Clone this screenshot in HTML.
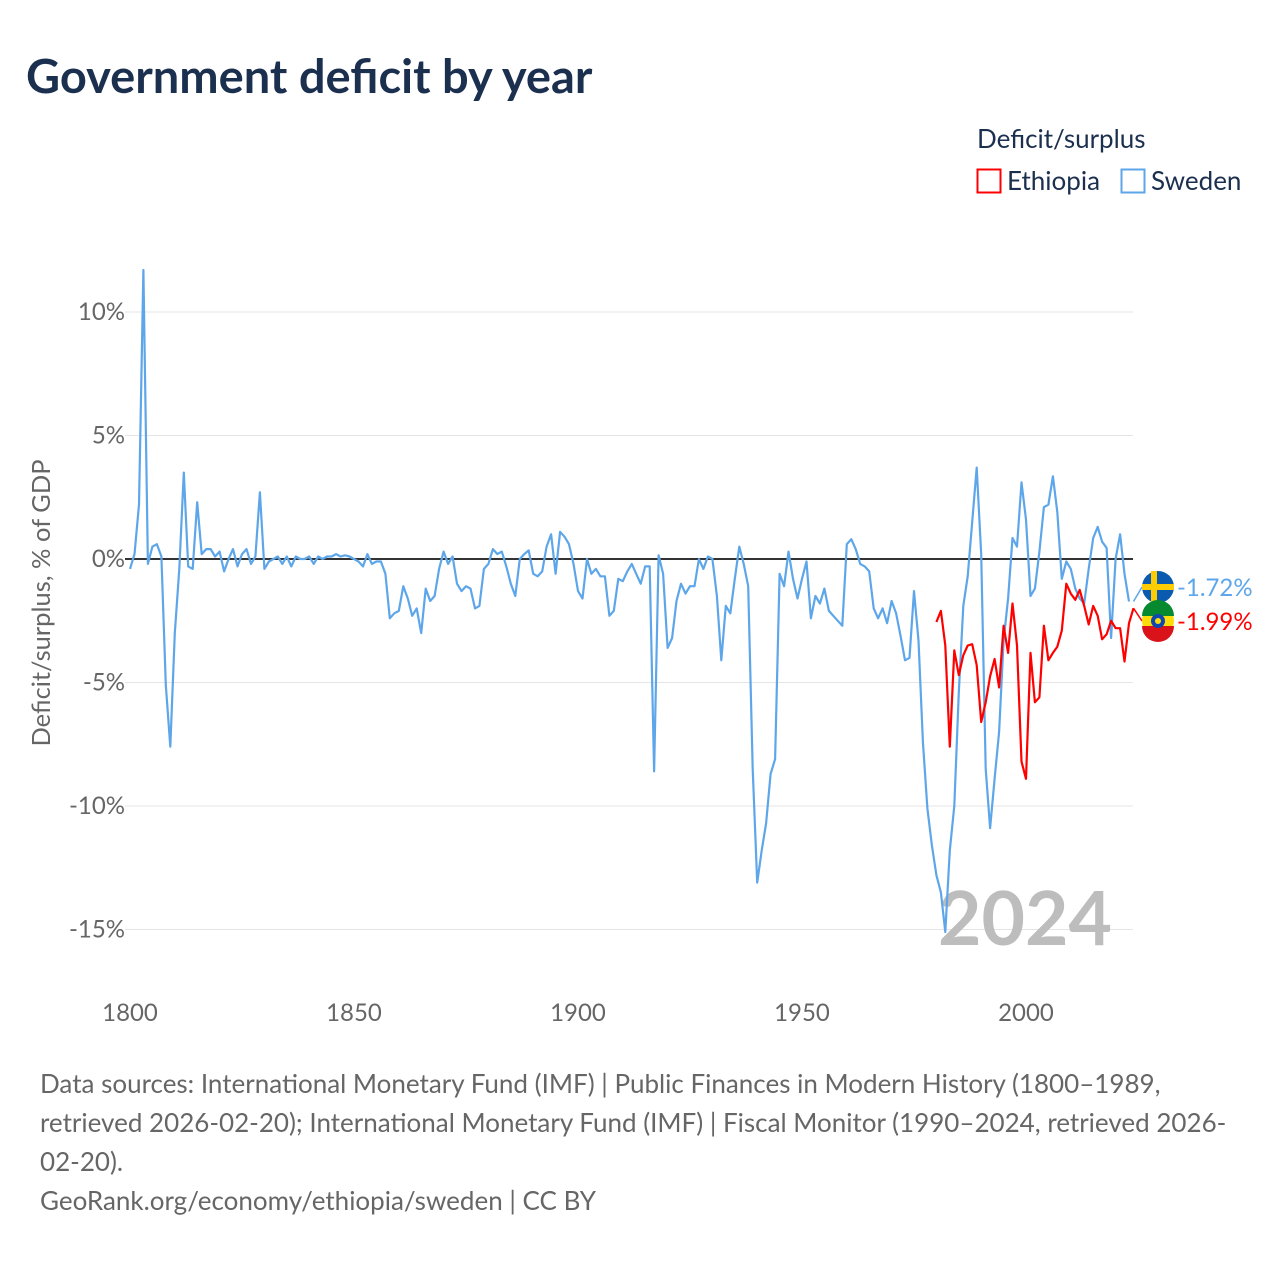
<!DOCTYPE html>
<html><head><meta charset="utf-8">
<style>
body{margin:0;background:#fff;width:1280px;height:1280px;overflow:hidden;font-family:"Liberation Sans",sans-serif;}
svg text{font-family:"Lato","Liberation Sans",sans-serif;}
</style></head>
<body>
<svg id="chart" width="1280" height="1280" xmlns="http://www.w3.org/2000/svg">
<text x="26" y="93" font-size="47" font-weight="bold" fill="#1b2f4e">Government deficit by year</text>
<text x="977" y="148" font-size="26" fill="#1b2f4e">Deficit/surplus</text>
<g><rect x="977.5" y="169.5" width="23" height="23" fill="none" stroke="#ff0000" stroke-width="2"/><text x="1007" y="190" font-size="26" fill="#1b2f4e">Ethiopia</text></g>
<g><rect x="1121.5" y="169.5" width="23" height="23" fill="none" stroke="#5ea6ea" stroke-width="2"/><text x="1151" y="190" font-size="26" fill="#1b2f4e">Sweden</text></g>
<g id="grid"></g>
<g id="yticks"></g>
<g id="xticks"></g>
<text transform="translate(50,603) rotate(-90)" text-anchor="middle" font-size="25.5" fill="#666">Deficit/surplus, % of GDP</text>
<text x="1112" y="945" text-anchor="end" font-size="75" font-weight="bold" fill="#bdbdbd">2024</text>
<line id="zero" stroke="#333" stroke-width="2"/>
<g id="series"></g>
<g id="labels"></g>
<g font-size="26" fill="#666">
<text x="40" y="1093">Data sources: International Monetary Fund (IMF) | Public Finances in Modern History (1800–1989,</text>
<text x="40" y="1132">retrieved 2026-02-20); International Monetary Fund (IMF) | Fiscal Monitor (1990–2024, retrieved 2026-</text>
<text x="40" y="1171">02-20).</text>
<text x="40" y="1210">GeoRank.org/economy/ethiopia/sweden | CC BY</text>
</g>
</svg>
<script>
const yTicks=[10,5,0,-5,-10,-15];
const xTicks=[1800,1850,1900,1950,2000];
const swedenStart=1800;
const swedenValues=[-0.4,0.2,2.2,11.7,-0.2,0.5,0.6,0.1,-5.1,-7.6,-3,-0.4,3.5,-0.3,-0.4,2.3,0.2,0.4,0.4,0.1,0.3,-0.5,0,0.4,-0.3,0.2,0.4,-0.2,0.1,2.7,-0.4,-0.1,0,0.1,-0.2,0.1,-0.3,0.1,0,0,0.1,-0.2,0.1,0,0.1,0.1,0.2,0.1,0.15,0.1,0,-0.1,-0.3,0.2,-0.2,-0.1,-0.1,-0.6,-2.4,-2.2,-2.1,-1.1,-1.6,-2.3,-2,-3,-1.2,-1.7,-1.5,-0.4,0.3,-0.2,0.1,-1,-1.3,-1.1,-1.2,-2,-1.9,-0.4,-0.2,0.4,0.2,0.3,-0.3,-1,-1.5,0,0.2,0.35,-0.6,-0.7,-0.5,0.5,1,-0.6,1.1,0.9,0.6,-0.2,-1.3,-1.6,0,-0.6,-0.4,-0.7,-0.7,-2.3,-2.1,-0.8,-0.9,-0.5,-0.2,-0.6,-1,-0.3,-0.3,-8.6,0.15,-0.6,-3.6,-3.2,-1.7,-1,-1.4,-1.1,-1.1,0,-0.4,0.1,0,-1.5,-4.1,-1.9,-2.2,-0.8,0.5,-0.2,-1.1,-8.5,-13.1,-11.8,-10.7,-8.7,-8.1,-0.6,-1.1,0.3,-0.8,-1.6,-0.8,-0.1,-2.4,-1.5,-1.8,-1.2,-2.1,-2.3,-2.5,-2.7,0.6,0.8,0.4,-0.2,-0.3,-0.5,-2,-2.4,-2,-2.6,-1.7,-2.2,-3.1,-4.1,-4,-1.3,-3.3,-7.4,-10.1,-11.6,-12.8,-13.5,-15.1,-11.8,-10,-5.4,-1.9,-0.7,1.5,3.7,0.2,-8.5,-10.9,-8.9,-7,-3.3,-1.6,0.85,0.5,3.1,1.6,-1.5,-1.2,0.3,2.1,2.2,3.35,1.9,-0.8,-0.1,-0.4,-1.2,-1.6,-1.8,-0.4,0.85,1.3,0.7,0.45,-3.2,0,1,-0.6,-1.72];
const ethiopiaStart=1980;
const ethiopiaValues=[-2.55,-2.1,-3.5,-7.6,-3.7,-4.7,-3.9,-3.5,-3.45,-4.3,-6.6,-5.8,-4.75,-4.05,-5.2,-2.7,-3.8,-1.8,-3.5,-8.2,-8.9,-3.8,-5.8,-5.6,-2.7,-4.1,-3.8,-3.55,-2.9,-1.0,-1.4,-1.65,-1.25,-1.9,-2.65,-1.9,-2.3,-3.25,-3.05,-2.5,-2.8,-2.8,-4.15,-2.6,-1.99];

const NS='http://www.w3.org/2000/svg';
const X0=130,X1=1133.5,Y0=559,PER=24.7;
const xS=y=>X0+(y-1800)*(X1-X0)/224;
const yS=v=>Y0-v*PER;
function mk(tag,attrs,parent){const e=document.createElementNS(NS,tag);for(const k in attrs)e.setAttribute(k,attrs[k]);parent.appendChild(e);return e;}
const grid=document.getElementById('grid'),yt=document.getElementById('yticks'),xt=document.getElementById('xticks');
yTicks.forEach(v=>{
  const l=mk('line',{x1:125,x2:1133,y1:yS(v),y2:yS(v),stroke:'#e4e4e4','stroke-width':1},grid);
  
  
  const t=mk('text',{x:125,y:yS(v)+8,'text-anchor':'end','font-size':24,fill:'#666'},yt);
  
  
  t.textContent=v+'%';
});
xTicks.forEach(v=>{
  const t=mk('text',{x:xS(v),y:1021,'text-anchor':'middle','font-size':24,fill:'#666'},xt);
  
  
  t.textContent=v;
});
const z=document.getElementById('zero');
z.setAttribute('x1',125);z.setAttribute('x2',1133);z.setAttribute('y1',Y0);z.setAttribute('y2',Y0);
const ser=document.getElementById('series');
function line(vals,start,color,name){
  const d=vals.map((v,i)=>(i?'L':'M')+xS(start+i).toFixed(1)+' '+yS(v).toFixed(1)).join(' ');
  const p=mk('path',{d:d,fill:'none',stroke:color,'stroke-width':2.2,'stroke-linejoin':'round'},ser);
  
  
}
line(swedenValues,swedenStart,'#5ea6ea','sweden-line');
line(ethiopiaValues,ethiopiaStart,'#ff0000','ethiopia-line');
const lab=document.getElementById('labels');
function endLabel(v,color,name,ly,flag){
  const x=xS(2024);
  mk('line',{x1:x,x2:1142,y1:yS(v),y2:ly,stroke:color,'stroke-width':1.5},lab);
  const g=mk('g',{},lab);
  
  
  flag(g,1158,ly);
  const t=mk('text',{x:1177,y:ly+9,'font-size':24,fill:color},lab);
  
  
  t.textContent=v.toFixed(2)+'%';
}
endLabel(swedenValues[swedenValues.length-1],'#5ea6ea','sweden',587,(g,cx,cy)=>{
  mk('circle',{cx:cx,cy:cy,r:16,fill:'#0a5bb0'},g);
  mk('rect',{x:cx-16,y:cy-3,width:32,height:6,fill:'#fecc02'},g);
  mk('rect',{x:cx-7,y:cy-16,width:6,height:32,fill:'#fecc02'},g);
});
endLabel(ethiopiaValues[ethiopiaValues.length-1],'#ff0000','ethiopia',621,(g,cx,cy)=>{
  mk('circle',{cx:cx,cy:cy,r:16,fill:'#fcdd09'},g);
  mk('path',{d:`M${cx-16} ${cy-5} A16 16 0 0 1 ${cx+16} ${cy-5} Z`,fill:'#078930'},g);
  mk('path',{d:`M${cx-16} ${cy+5} A16 16 0 0 0 ${cx+16} ${cy+5} Z`,fill:'#da121a'},g);
  mk('circle',{cx:cx,cy:cy,r:7,fill:'#0f47af'},g);
  mk('circle',{cx:cx,cy:cy,r:3,fill:'#fcdd09'},g);
});
</script>
</body></html>
